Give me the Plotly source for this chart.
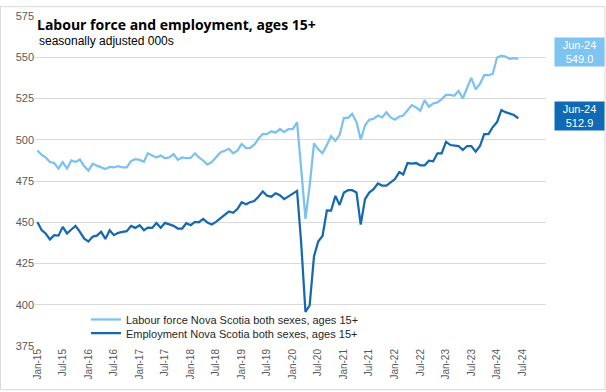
import pandas as pd
import plotly.graph_objects as go

months = pd.date_range("2015-01-01", periods=114, freq="MS")

labour_force = [
    493.5, 490.8, 489.3, 486.5, 485.9, 482.5, 486.5, 482.5, 487.5, 486.5,
    488.0, 484.0, 481.3, 485.5, 484.3, 483.3, 482.3, 483.5, 483.2, 484.0,
    483.2, 483.2, 487.0, 488.3, 487.8, 486.7, 491.8, 490.5, 489.3, 490.5,
    488.8, 489.3, 491.3, 487.8, 489.3, 488.8, 489.0, 491.8, 489.3, 487.3,
    485.0, 486.5, 489.6, 492.3, 493.3, 494.5, 491.8, 493.4, 497.4, 495.0,
    495.0, 497.0, 500.6, 503.6, 503.4, 505.1, 504.3, 506.5, 504.6, 506.5,
    506.5, 510.5, 483.0, 452.0, 472.0, 497.8, 494.2, 491.8, 496.8, 502.2,
    499.4, 502.8, 513.3, 513.3, 515.7, 510.7, 500.2, 508.7, 512.1, 512.7,
    514.7, 513.5, 516.7, 513.5, 512.1, 514.0, 514.7, 518.0, 521.0, 519.6,
    517.6, 524.0, 520.0, 522.0, 522.6, 524.6, 527.2, 527.2, 526.6, 529.6,
    525.0, 531.5, 537.5, 530.5, 533.9, 539.1, 539.1, 539.9, 549.8, 551.0,
    550.4, 549.0, 549.4, 549.0,
]

employment = [
    450.2, 445.2, 443.2, 439.6, 442.2, 441.9, 447.2, 443.2, 445.6, 447.8,
    444.2, 440.2, 438.3, 441.3, 441.9, 444.2, 439.9, 445.2, 442.2, 443.6,
    444.2, 444.6, 447.8, 446.6, 448.2, 445.2, 446.8, 446.6, 449.6, 446.6,
    449.6, 448.6, 447.8, 446.2, 446.2, 449.4, 448.2, 450.2, 450.0, 452.0,
    449.8, 448.6, 450.2, 452.4, 454.6, 456.5, 455.7, 458.0, 462.1, 460.9,
    462.1, 462.9, 465.5, 468.7, 466.1, 465.5, 467.6, 466.4, 464.0, 465.5,
    467.0, 469.0, 438.0, 395.6, 399.6, 429.3, 438.3, 441.7, 457.1, 457.0,
    466.0, 460.5, 468.0, 469.4, 469.4, 468.0, 448.6, 464.0, 468.0, 470.0,
    473.5, 472.2, 472.2, 474.0, 476.2, 480.4, 478.9, 485.9, 485.5, 485.9,
    484.5, 484.5, 487.3, 486.9, 491.8, 491.8, 498.8, 496.8, 496.7, 496.2,
    493.8, 496.2, 496.2, 492.8, 496.2, 503.4, 503.4, 507.7, 510.7, 518.0,
    516.7, 516.0, 515.0, 512.9,
]

series_names = [
    "Labour force Nova Scotia both sexes, ages 15+",
    "Employment Nova Scotia both sexes, ages 15+",
]
last_label = "Jun-24"

LIGHT = "#7cc1ef"
DARK = "#1769ae"
LIGHT_BOX = "#7fc3f3"
DARK_BOX = "#0f69b4"
SANS = "Liberation Sans, Arial, sans-serif"

fig = go.Figure()
fig.add_trace(go.Scatter(x=months, y=labour_force, mode="lines", name=series_names[0],
                         line=dict(color=LIGHT, width=2.25), legend="legend"))
fig.add_trace(go.Scatter(x=months, y=employment, mode="lines", name=series_names[1],
                         line=dict(color=DARK, width=2.25), legend="legend2"))

L, R, T, B = 35, 546, 10, 346
W, H = 606, 392
pw, ph = R - L, B - T


def px(x):
    return (x - L) / pw


def py(y):
    return (B - y) / ph


legend_common = dict(xanchor="left", yanchor="middle", bgcolor="rgba(255,255,255,0)",
                     font=dict(family=SANS, size=11, color="#262626"), itemwidth=30)

fig.update_layout(
    width=W, height=H,
    margin=dict(l=L, r=W - R, t=T, b=H - B),
    paper_bgcolor="white", plot_bgcolor="white",
    showlegend=True,
    legend=dict(x=px(86), y=py(319), **legend_common),
    legend2=dict(x=px(86), y=py(333), **legend_common),
    xaxis=dict(type="date", range=["2014-12-15", "2024-12-16"],
               tick0="2015-01-01", dtick="M6", tickformat="%b-%y", tickangle=-90,
               showgrid=False, zeroline=False, showline=False, ticks="",
               tickfont=dict(family=SANS, size=10, color="#595959")),
    yaxis=dict(range=[375, 575], dtick=25, tick0=375, showgrid=True, gridcolor="#d9d9d9",
               gridwidth=1, zeroline=False, showline=False, ticks="",
               tickfont=dict(family=SANS, size=11, color="#595959")),
    annotations=[
        dict(text="<b>Labour force and employment, ages 15+</b>", xref="paper", yref="paper",
             x=px(35), y=py(19), xanchor="left", yanchor="middle", showarrow=False,
             font=dict(family="Open Sans, sans-serif", size=14, color="#000000")),
        dict(text="seasonally adjusted 000s", xref="paper", yref="paper",
             x=px(37), y=py(35), xanchor="left", yanchor="middle", showarrow=False,
             font=dict(family=SANS, size=12, color="#000000")),
        dict(text=f"{last_label}<br>{labour_force[-1]:.1f}", xref="paper", yref="y",
             x=px(579.5), y=553.3, xanchor="center", yanchor="middle",
             showarrow=False, bgcolor=LIGHT_BOX, width=47, height=26, borderpad=1,
             font=dict(family=SANS, size=11, color="white")),
        dict(text=f"{last_label}<br>{employment[-1]:.1f}", xref="paper", yref="y",
             x=px(579.5), y=514.5, xanchor="center", yanchor="middle",
             showarrow=False, bgcolor=DARK_BOX, width=47, height=26, borderpad=1,
             font=dict(family=SANS, size=11, color="white")),
    ],
    shapes=[
        dict(type="rect", xref="paper", yref="paper", x0=px(0.5), x1=px(605),
             y0=py(390.5), y1=py(0.5), line=dict(color="#d9d9d9", width=1), layer="below"),
    ],
)

fig.write_html("out.html", config={"displayModeBar": False},
               post_script="document.body.style.margin='0';document.body.style.overflow='hidden';")
